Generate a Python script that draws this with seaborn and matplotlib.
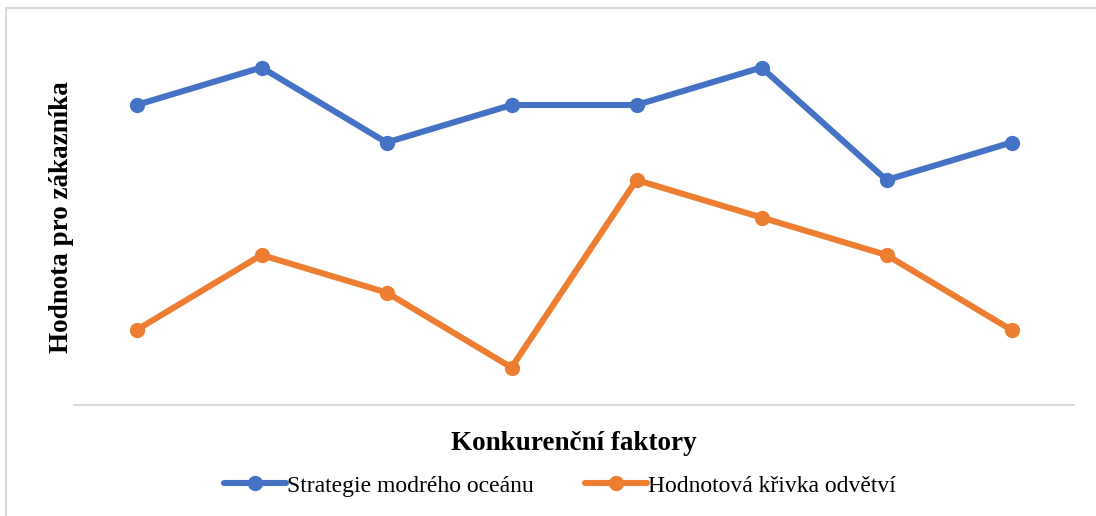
import numpy as np
import pandas as pd
import matplotlib
matplotlib.use("Agg")
import matplotlib.pyplot as plt
from matplotlib.patches import Rectangle
import seaborn as sns

# data
faktory = [1, 2, 3, 4, 5, 6, 7, 8]
modry_ocean = [8, 9, 7, 8, 8, 9, 6, 7]
odvetvi = [2, 4, 3, 1, 6, 5, 4, 2]
serie = ["Strategie modrého oceánu", "Hodnotová křivka odvětví"]
barvy = ["#4472C4", "#ED7D31"]

df = pd.DataFrame({
    "faktor": faktory * 2,
    "hodnota": modry_ocean + odvetvi,
    "serie": [serie[0]] * len(faktory) + [serie[1]] * len(faktory),
})

sns.set_style("white")
plt.rcParams["font.family"] = ["Liberation Serif", "DejaVu Serif"]
plt.rcParams["text.color"] = "black"
plt.rcParams["axes.labelcolor"] = "black"

fig = plt.figure(figsize=(10.96, 5.16), dpi=100)
ax = fig.add_axes([74 / 1096, 111 / 516, 1000 / 1096, 375 / 516])

sns.lineplot(data=df, x="faktor", y="hodnota", hue="serie", palette=barvy,
             marker="o", markersize=11, markeredgewidth=0, linewidth=4.4,
             sort=False, ax=ax)

ax.set_xlim(0.5, 8.5)
ax.set_ylim(0, 10)
ax.set_xticks([])
ax.set_yticks([])
for s in ["top", "right", "left"]:
    ax.spines[s].set_visible(False)
ax.spines["bottom"].set_color("#d9d9d9")
ax.spines["bottom"].set_linewidth(1.5)

ax.set_xlabel("Konkurenční faktory", fontsize=19.5, fontweight="bold", labelpad=19)
ax.set_ylabel("Hodnota pro zákazníka", fontsize=19.5, fontweight="bold", labelpad=0)

ax.legend(loc="upper center", bbox_to_anchor=(0.486, -0.13), ncol=2, frameon=False,
          fontsize=17, handlelength=2.6, columnspacing=2.2, handletextpad=0.05)

fig.patches.append(Rectangle((6 / 1096, -0.1), 1.2, (516 - 8) / 516 + 0.1,
                             transform=fig.transFigure, fill=False,
                             edgecolor="#d9d9d9", linewidth=1.5))

fig.savefig("out.png", dpi=100)
